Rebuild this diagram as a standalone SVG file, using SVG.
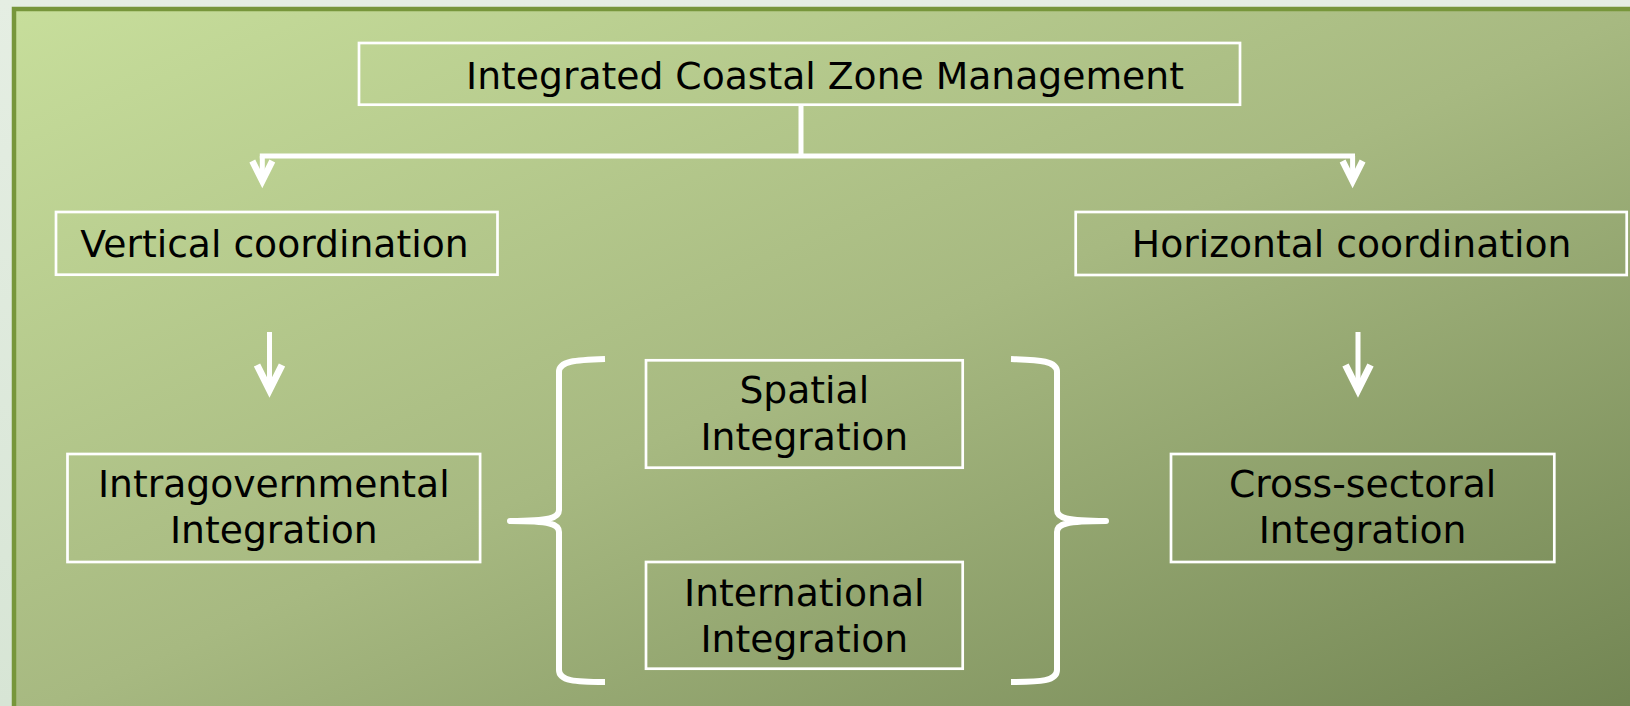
<svg xmlns="http://www.w3.org/2000/svg" width="1630" height="706" viewBox="0 0 1630 706">
  <defs>
    <linearGradient id="panel" x1="0" y1="0" x2="1" y2="1">
      <stop offset="0" stop-color="#c7de9b"/>
      <stop offset="0.5" stop-color="#a7b981"/>
      <stop offset="1" stop-color="#718452"/>
    </linearGradient>
    <linearGradient id="page" x1="0" y1="0" x2="0" y2="1">
      <stop offset="0" stop-color="#e5eee3"/>
      <stop offset="1" stop-color="#d7e5d5"/>
    </linearGradient>
    <marker id="headS" markerUnits="userSpaceOnUse" orient="auto" markerWidth="60" markerHeight="60" viewBox="-30 -30 60 60" refX="0" refY="0" overflow="visible">
      <path d="M -20 -10 L 0 0 L -20 10" fill="none" stroke="#ffffff" stroke-width="6.5" stroke-linejoin="miter" stroke-miterlimit="10"/>
    </marker>
    <marker id="headL" markerUnits="userSpaceOnUse" orient="auto" markerWidth="60" markerHeight="60" viewBox="-30 -30 60 60" refX="0" refY="0" overflow="visible">
      <path d="M -25 -12.5 L 0 0 L -25 12.5" fill="none" stroke="#ffffff" stroke-width="7" stroke-linejoin="miter" stroke-miterlimit="10"/>
    </marker>
  </defs>
  <style>
    .box { fill: none; stroke: #ffffff; stroke-width: 2.7; }
    .lbl { font-family: "DejaVu Sans", Verdana, "Liberation Sans", sans-serif; font-size: 37.7px; fill: #000000; text-anchor: middle; }
    .wire { fill: none; stroke: #ffffff; stroke-width: 5; }
    .brace { fill: none; stroke: #ffffff; stroke-width: 6; stroke-linecap: butt; stroke-linejoin: round; }
  </style>

  <rect x="0" y="0" width="1630" height="706" fill="url(#page)"/>
  <rect x="14" y="9" width="1630" height="710" fill="url(#panel)" stroke="#77963b" stroke-width="4.5"/>

  <g id="connectors">
    <line class="wire" x1="801" y1="106" x2="801" y2="156" stroke-width="4"/>
    <line class="wire" x1="259.8" y1="156" x2="1355" y2="156"/>
    <path class="wire" d="M 262.3 156 L 262.3 181" marker-end="url(#headS)"/>
    <path class="wire" d="M 1352.6 156 L 1352.6 181" marker-end="url(#headS)"/>
    <path class="wire" d="M 269.5 332 L 269.5 390" stroke-width="5.5" marker-end="url(#headL)"/>
    <path class="wire" d="M 1358 332 L 1358 390" stroke-width="5.5" marker-end="url(#headL)"/>
    <path class="brace" d="M 605 359 C 575 360 559 361 559 372 L 559 510 C 559 518 550 521 510 521 C 550 521 559 524 559 532 L 559 670 C 559 681 575 682 605 682"/>
    <path class="brace" d="M 1011 359 C 1041 360 1057 361 1057 372 L 1057 510 C 1057 518 1066 521 1106 521 C 1066 521 1057 524 1057 532 L 1057 670 C 1057 681 1041 682 1011 682"/>
  </g>

  <g id="iczm">
    <rect class="box" x="359" y="43" width="881" height="61.7"/>
    <text class="lbl" x="825" y="89.3">Integrated Coastal Zone Management</text>
  </g>
  <g id="vertical">
    <rect class="box" x="56" y="212" width="441.5" height="62.7"/>
    <text class="lbl" x="274.5" y="257.3">Vertical coordination</text>
  </g>
  <g id="horizontal">
    <rect class="box" x="1075.7" y="212" width="551" height="63"/>
    <text class="lbl" x="1351.7" y="257.3">Horizontal coordination</text>
  </g>
  <g id="intragovernmental">
    <rect class="box" x="67.5" y="454" width="412.6" height="108"/>
    <text class="lbl" x="273.8" y="497.3">Intragovernmental</text>
    <text class="lbl" x="273.8" y="543.3">Integration</text>
  </g>
  <g id="spatial">
    <rect class="box" x="646" y="360.3" width="316.7" height="107.4"/>
    <text class="lbl" x="804.3" y="403.3">Spatial</text>
    <text class="lbl" x="804.3" y="450">Integration</text>
  </g>
  <g id="international">
    <rect class="box" x="646" y="562" width="316.7" height="106.7"/>
    <text class="lbl" x="804.3" y="605.7">International</text>
    <text class="lbl" x="804.3" y="651.7">Integration</text>
  </g>
  <g id="crosssectoral">
    <rect class="box" x="1171" y="454" width="383.3" height="108"/>
    <text class="lbl" x="1362.6" y="497.3">Cross-sectoral</text>
    <text class="lbl" x="1362.6" y="543.3">Integration</text>
  </g>
</svg>
